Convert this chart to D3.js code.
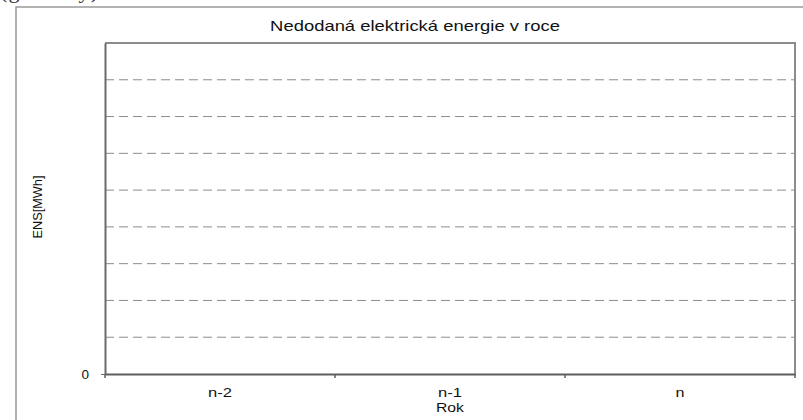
<!DOCTYPE html>
<html><head><meta charset="utf-8">
<script src="https://cdn.jsdelivr.net/npm/d3@7"></script>
<style>body{margin:0;background:#fff}svg{display:block;font-family:"Liberation Sans",Arial,sans-serif}</style>
</head><body><svg id="c" width="803" height="420"></svg>
<script>
const categories = ["n-2", "n-1", "n"];
const seriesValues = [0, 0, 0];
const yTickValues = [0, 1, 2, 3, 4, 5, 6, 7, 8, 9];
const yTickLabels = ["0"];
const title = "Nedodaná elektrická energie v roce";
const xTitle = "Rok";
const yTitle = "ENS[MWh]";

const svg = d3.select("#c");
const m = {left: 105, top: 43, right: 795, bottom: 374};

// place text at (cx,cy) stretched horizontally to width w
function stretched(parent, str, cx, cy, size, w, rotate) {
  const t = parent.append("text").attr("text-anchor", "middle").attr("font-size", size)
    .attr("fill", "#111").text(str);
  const len = t.node().getComputedTextLength();
  const s = w / len;
  t.attr("transform", `translate(${cx},${cy})${rotate ? " rotate(-90)" : ""} scale(${s},1)`);
  return t;
}

// outer frame (partly off-canvas)
svg.append("rect").attr("x", 16).attr("y", 7).attr("width", 820).attr("height", 440)
  .attr("fill", "none").attr("stroke", "#8a8a8a").attr("stroke-width", 1.3);

// cut off text at top edge (as in reference)
svg.append("text").attr("x", 0).attr("y", -2).attr("font-family", "Liberation Serif")
  .attr("font-size", 22).attr("fill", "#333").text("(graficky)")
  .attr("textLength", 98).attr("lengthAdjust", "spacing");

const x = d3.scaleBand().domain(categories).range([m.left, m.right]);
const y = d3.scaleLinear().domain([0, 9]).range([m.bottom, m.top]);

// gridlines
svg.append("g").selectAll("line").data(yTickValues.filter(v => v > 0 && v < 9)).join("line")
  .attr("x1", m.left).attr("x2", m.right).attr("y1", d => y(d)).attr("y2", d => y(d))
  .attr("stroke", "#8c8c8c").attr("stroke-width", 1).attr("stroke-dasharray", "9,5");

// plot border top/right
svg.append("path").attr("d", `M${m.left},${m.top}H${m.right}V${m.bottom}`)
  .attr("fill", "none").attr("stroke", "#8c8c8c").attr("stroke-width", 2);

// bars (all zero)
svg.append("g").selectAll("rect").data(seriesValues).join("rect")
  .attr("x", (d, i) => x(categories[i]) + x.bandwidth() * 0.25)
  .attr("width", x.bandwidth() * 0.5)
  .attr("y", d => y(d)).attr("height", d => y(0) - y(d)).attr("fill", "#9999ff");

// y axis
const yAxis = svg.append("g").attr("transform", `translate(${m.left},0)`)
  .call(d3.axisLeft(y).tickValues([0]).tickFormat((d, i) => yTickLabels[i]).tickSize(4).tickSizeOuter(0).tickPadding(12));
yAxis.select(".domain").attr("stroke", "#6a6a6a").attr("stroke-width", 2);
yAxis.selectAll(".tick line").attr("stroke", "#6a6a6a");
yAxis.selectAll("text").attr("font-size", 13.5).attr("fill", "#111");

// x axis
const xAxis = svg.append("g").attr("transform", `translate(0,${m.bottom})`)
  .call(d3.axisBottom(x).tickSize(0).tickFormat(() => ""));
xAxis.select(".domain").attr("stroke", "#5e5e5e").attr("stroke-width", 2);
xAxis.selectAll(".tick").each(function(d) {
  stretched(d3.select(this), d, x.bandwidth() / 2 - x.bandwidth() / 2, 23, 13, d === "n" ? 9 : 24);
});
// category boundary ticks
const bounds = categories.map(c => x(c)).concat([x(categories[categories.length - 1]) + x.bandwidth()]);
svg.append("g").selectAll("line").data(bounds).join("line")
  .attr("x1", d => d).attr("x2", d => d).attr("y1", m.bottom).attr("y2", m.bottom + 4)
  .attr("stroke", "#5e5e5e").attr("stroke-width", 1.5);

// titles
stretched(svg, title, 415, 31, 14, 290);
stretched(svg, xTitle, 450, 412, 13.5, 28);
stretched(svg, yTitle, 42, 207, 13, 63, true);
</script></body></html>
